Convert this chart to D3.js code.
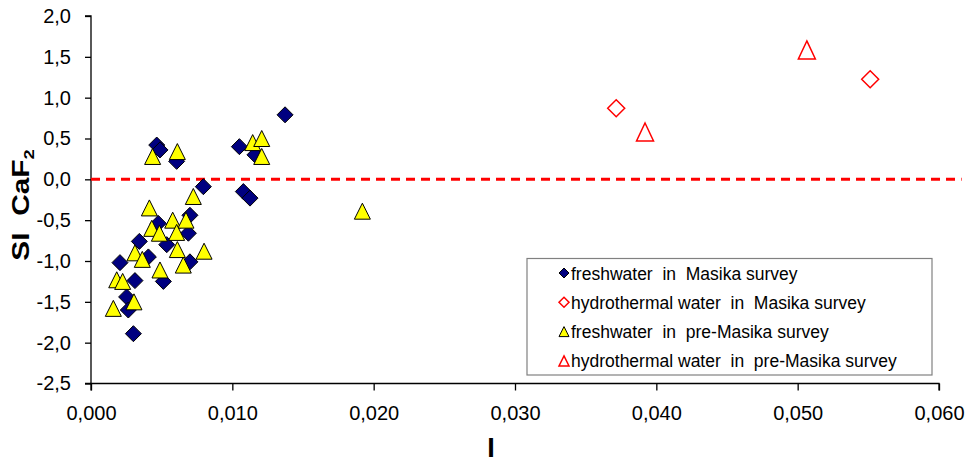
<!DOCTYPE html>
<html>
<head>
<meta charset="utf-8">
<script src="https://cdn.jsdelivr.net/npm/d3@7"></script>
<style>
  html, body { margin: 0; padding: 0; background: #ffffff; }
  svg { display: block; font-family: "Liberation Sans", Arial, sans-serif; }
</style>
</head>
<body>
<svg id="chart" width="971" height="463"></svg>
<script>
// Ionic strength (I) vs. fluorite saturation index (SI CaF2)
const freshMasikaI  = [0.00795, 0.01078, 0.01125, 0.00700, 0.00476, 0.00689, 0.00342, 0.00536, 0.00406, 0.00205, 0.00700,
                       0.00311, 0.00512, 0.00252, 0.00264, 0.00300, 0.00465, 0.00488, 0.00606, 0.01050, 0.01160, 0.01373];
const freshMasikaSI = [-0.09, -0.15, -0.23, -0.44, -0.54, -0.66, -0.76, -0.80, -0.95, -1.02, -1.01,
                       -1.24, -1.25, -1.44, -1.60, -1.89, 0.42, 0.36, 0.22, 0.40, 0.30, 0.79];

const hydroMasikaI  = [0.03716, 0.05513];
const hydroMasikaSI = [0.87, 1.225];

const freshPreI  = [0.00724, 0.00413, 0.00578, 0.00672, 0.00430, 0.00484, 0.00606, 0.00311, 0.00611, 0.00800, 0.00363, 0.00653,
                    0.00488, 0.00182, 0.00224, 0.00304, 0.00158, 0.01920, 0.00436, 0.00611, 0.01144, 0.01208, 0.01208];
const freshPreSI = [-0.21, -0.35, -0.50, -0.50, -0.60, -0.66, -0.65, -0.90, -0.86, -0.88, -0.98, -1.05,
                    -1.11, -1.23, -1.25, -1.50, -1.58, -0.39, 0.28, 0.34, 0.45, 0.50, 0.28];

const hydroPreI  = [0.0392, 0.05065];
const hydroPreSI = [0.58, 1.585];

const xTicks = [0, 0.01, 0.02, 0.03, 0.04, 0.05, 0.06];
const yTicks = [-2.5, -2.0, -1.5, -1.0, -0.5, 0.0, 0.5, 1.0, 1.5, 2.0];
const equilibriumLine = { from: 0, to: 0.0616, si: 0 };

const legendLabels = [
  "freshwater  in  Masika survey",
  "hydrothermal water  in  Masika survey",
  "freshwater  in  pre-Masika survey",
  "hydrothermal water  in  pre-Masika survey"
];

const svg = d3.select("#chart");
const m = { left: 91, top: 16, right: 939, bottom: 383.5 };

const x = d3.scaleLinear().domain([0, 0.06]).range([m.left, m.right]);
const y = d3.scaleLinear().domain([-2.5, 2.0]).range([m.bottom, m.top]);

// decimal comma and a plain hyphen for negatives
const comma = f => v => f(v).replace(".", ",").replace("\u2212", "-");

// axes
const yAxis = svg.append("g")
  .attr("transform", `translate(${m.left},0)`)
  .call(d3.axisLeft(y).tickValues(yTicks).tickSize(6).tickPadding(14).tickFormat(comma(d3.format(".1f"))));
const xAxis = svg.append("g")
  .attr("transform", `translate(0,${m.bottom})`)
  .call(d3.axisBottom(x).tickValues(xTicks).tickSize(7).tickPadding(15).tickFormat(comma(d3.format(".3f"))));

[xAxis, yAxis].forEach(g => {
  g.select(".domain").attr("stroke", "#000").attr("stroke-width", 1.3);
  g.selectAll(".tick line").attr("stroke", "#000").attr("stroke-width", 1.3);
  g.selectAll(".tick text").attr("fill", "#000").attr("font-size", 20)
    .attr("font-family", "'Liberation Sans', Arial, sans-serif");
});
yAxis.select(".domain").attr("d", `M-6,${m.bottom}H0V${m.top}H-6`);
xAxis.select(".domain").attr("d", `M${m.left},7V0H${m.right}V7`);

// zero saturation reference line
svg.append("line")
  .attr("x1", x(equilibriumLine.from)).attr("x2", x(equilibriumLine.to))
  .attr("y1", y(equilibriumLine.si)).attr("y2", y(equilibriumLine.si))
  .attr("stroke", "#ff0000").attr("stroke-width", 3)
  .attr("stroke-dasharray", "9,6");

// marker shapes
const diamond = s => `M0,${-s}L${s},0L0,${s}L${-s},0Z`;
const triangle = (w, h) => `M0,${-h / 2}L${w / 2},${h / 2}L${-w / 2},${h / 2}Z`;

function plotSeries(xs, ys, path, fill, stroke, sw) {
  svg.append("g").selectAll("path")
    .data(xs.map((v, i) => [v, ys[i]]))
    .join("path")
    .attr("transform", d => `translate(${x(d[0])},${y(d[1])})`)
    .attr("d", path)
    .attr("fill", fill)
    .attr("stroke", stroke)
    .attr("stroke-width", sw)
    .attr("stroke-linejoin", "miter");
}

plotSeries(freshMasikaI, freshMasikaSI, diamond(8), "#000080", "#000", 1);
plotSeries(hydroMasikaI, hydroMasikaSI, diamond(8.5), "none", "#ff0000", 1.5);
plotSeries(freshPreI, freshPreSI, triangle(16, 16), "#ffff00", "#000", 1);
plotSeries(hydroPreI, hydroPreSI, triangle(17, 18), "none", "#ff0000", 1.5);

// legend
const lg = svg.append("g");
lg.append("rect").attr("x", 527).attr("y", 258.5).attr("width", 405).attr("height", 116.5)
  .attr("fill", "#fff").attr("stroke", "#808080").attr("stroke-width", 1.2);
const legendMarks = [
  { d: diamond(5), fill: "#000080", stroke: "#000", sw: 1 },
  { d: diamond(5), fill: "none", stroke: "#ff0000", sw: 1.5 },
  { d: triangle(10, 10), fill: "#ffff00", stroke: "#000", sw: 1 },
  { d: triangle(10, 10), fill: "none", stroke: "#ff0000", sw: 1.5 }
];
legendLabels.forEach((label, i) => {
  const cy = 273 + i * 29.3;
  lg.append("path").attr("transform", `translate(564,${cy})`).attr("d", legendMarks[i].d)
    .attr("fill", legendMarks[i].fill).attr("stroke", legendMarks[i].stroke).attr("stroke-width", legendMarks[i].sw);
  lg.append("text").attr("x", 571).attr("y", cy + 6.5)
    .attr("font-size", 17.5).attr("fill", "#000").attr("xml:space", "preserve")
    .style("white-space", "pre").text(label);
});

// axis titles
const yt = svg.append("text")
  .attr("transform", "translate(29,205) rotate(-90) scale(1.3,1)")
  .attr("text-anchor", "middle").attr("font-weight", "bold").attr("font-size", 23)
  .attr("fill", "#000").style("white-space", "pre");
yt.append("tspan").text("SI  CaF");
yt.append("tspan").attr("font-size", 14).attr("dy", 5).text("2");

svg.append("text").attr("x", 491).attr("y", 457)
  .attr("text-anchor", "middle").attr("font-weight", "bold").attr("font-size", 27)
  .attr("fill", "#000").text("I");
</script>
</body>
</html>
